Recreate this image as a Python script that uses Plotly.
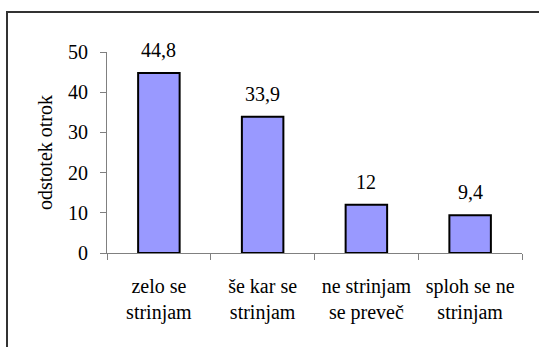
import plotly.graph_objects as go

# Survey answers and share of children (percent)
categories = ["zelo se<br>strinjam", "še kar se<br>strinjam", "ne strinjam<br>se preveč", "sploh se ne<br>strinjam"]
values = [44.8, 33.9, 12, 9.4]
y_ticks = [0, 10, 20, 30, 40, 50]
y_title = "odstotek otrok"

labels = [f"{v:g}".replace(".", ",") for v in values]

W, H = 539, 347
L, R, T, B = 107, 17, 52, 94
pw, ph = W - L - R, H - T - B

SERIF = "Times New Roman"

fig = go.Figure(go.Bar(x=categories, y=values,
                       marker=dict(color="#9999FF", line=dict(color="black", width=2))))

# value labels above each bar
for c, v, t in zip(categories, values, labels):
    fig.add_annotation(x=c, y=v, text=t, showarrow=False, yanchor="bottom",
                       yshift=10, font=dict(family=SERIF, size=20, color="black"))

fig.update_layout(width=W, height=H, margin=dict(l=L, r=R, t=T, b=B),
                  plot_bgcolor="white", bargap=0.6)

fig.update_xaxes(tickfont=dict(family=SERIF, size=20, color="black"),
                 showline=True, linecolor="#808080", ticks="outside",
                 tickson="boundaries", ticklen=6, tickcolor="#808080",
                 ticklabelstandoff=15)
fig.update_yaxes(range=[0, 50], tickvals=y_ticks,
                 tickfont=dict(family=SERIF, size=20, color="black"),
                 showline=True, linecolor="#808080", ticks="outside",
                 ticklen=6, tickcolor="#808080", ticklabelstandoff=8,
                 title=dict(text=y_title, standoff=10,
                            font=dict(family=SERIF, size=20, color="black")))

# chart frame: left and top edges visible, the rest runs off the page
fig.add_shape(type="rect", xref="paper", yref="paper",
              x0=(7 - L) / pw, x1=(560 - L) / pw,
              y0=(H - B - 370) / ph, y1=(H - B - 12) / ph,
              line=dict(color="#333333", width=2), layer="below")

fig.write_html("out.html")
